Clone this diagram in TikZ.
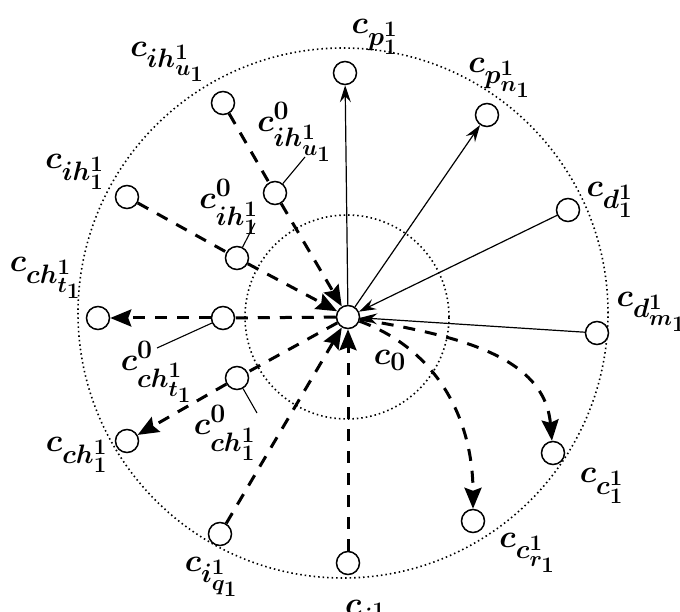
\documentclass[tikz,border=0pt]{standalone}
\usepackage{amsmath}
\usetikzlibrary{arrows.meta}
\DeclareMathSizes{17.28}{17.28}{14.4}{12}

\begin{document}
\begin{tikzpicture}[x=1pt, y=-1pt, every node/.style={font=\LARGE\boldmath}]
  \tikzset{
    cell/.style={draw, circle, line width=1.5pt, minimum size=23pt, inner sep=0pt, fill=white},
    lab/.style={scale=1.85},
    solidarr/.style={line width=1.2pt, -{Stealth[length=17pt, width=11pt, inset=6pt]}},
    dashln/.style={line width=3pt, dash pattern=on 12pt off 10pt},
    dasharr/.style={dashln, -{Stealth[length=21pt, width=17pt, inset=3pt]}},
    ring/.style={line width=1.6pt, dash pattern=on 1.5pt off 3pt},
    tag/.style={line width=1.1pt}
  }
  \useasboundingbox (0,0) rectangle (680,612);
  % dotted rings
  \draw[ring] (343,313) circle (265pt);
  \draw[ring] (347,317) circle (102pt);
  % cells
  \foreach \n/\x/\y in {c0/348/317, p1/345/73, pn/487/115, d1/568/210, dm/597/333,
      cc/553/453, cr/473/521, i1/348/563, iq/220/534, ch/127/441, chz/237/378,
      ct/98/318, ctz/223/318, ih/127/197, ihz/237/258, iu/223/103, iuz/275/193}
    \node[cell] (\n) at (\x,\y) {};
  % labels
  \node[lab] (c0lab) at (390,360) {$c_0$};
  \node[lab] (p1lab) at (375,37) {$c_{p^1_1}$};
  \node[lab] (pnlab) at (500,78) {$c_{p^1_{n_1}}$};
  \node[lab] (d1lab) at (610,200) {$c_{d^1_1}$};
  \node[lab] (dmlab) at (652,312) {$c_{d^1_{m_1}}$};
  \node[lab] (cclab) at (602,486) {$c_{c^1_1}$};
  \node[lab] (crlab) at (528,553) {$c_{c^1_{r_1}}$};
  \node[lab] (i1lab) at (366,618) {$c_{i^1_1}$};
  \node[lab] (iqlab) at (212,577) {$c_{i^1_{q_1}}$};
  \node[lab] (chlab) at (77,455) {$c_{ch^1_1}$};
  \node[lab] (ctlab) at (46,278) {$c_{ch^1_{t_1}}$};
  \node[lab] (ihlab) at (75,172) {$c_{ih^1_1}$};
  \node[lab] (iulab) at (168,62) {$c_{ih^1_{u_1}}$};
  \node[lab] (iuzlab) at (295,132) {$c^0_{ih^1_{u_1}}$};
  \node[lab] (ihzlab) at (229,207) {$c^0_{ih^1_1}$};
  \node[lab] (ctzlab) at (157,372) {$c^0_{ch^1_{t_1}}$};
  \node[lab] (chzlab) at (225,433) {$c^0_{ch^1_1}$};
  % tag lines to the inner labels
  \coordinate (iuztip) at (305,157);
  \coordinate (ihztip) at (255,223);
  \coordinate (ctztip) at (157,348);
  \coordinate (chztip) at (257,413);
  \draw[tag] (iuz) -- (iuztip);
  \draw[tag] (ihz) -- (ihztip);
  \draw[tag] (ctz) -- (ctztip);
  \draw[tag] (chz) -- (chztip);
  % solid links
  \draw[solidarr] (c0) -- (p1);
  \draw[solidarr] (c0) -- (pn);
  \draw[solidarr] (d1) -- (c0);
  \draw[solidarr] (dm) -- (c0);
  % dashed links
  \draw[dasharr] (c0) to[out=-10, in=95] (cc);
  \draw[dasharr] (c0) to[out=-20, in=90] (cr);
  \draw[dasharr] (i1) -- (c0);
  \draw[dasharr] (iq) -- (c0);
  \draw[dashln] (c0) -- (chz);
  \draw[dasharr] (chz) -- (ch);
  \draw[dashln] (c0) -- (ctz);
  \draw[dasharr] (ctz) -- (ct);
  \draw[dashln] (ih) -- (ihz);
  \draw[dasharr] (ihz) -- (c0);
  \draw[dashln] (iu) -- (iuz);
  \draw[dasharr] (iuz) -- (c0);
\end{tikzpicture}
\end{document}
